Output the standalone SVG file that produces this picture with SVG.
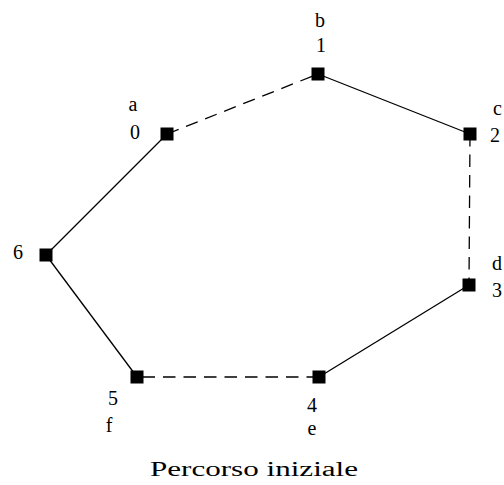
<svg xmlns="http://www.w3.org/2000/svg" width="504" height="485" viewBox="0 0 504 485">
<style>
.n{fill:#000}
.l{font-family:"Liberation Serif","Times New Roman",serif;font-size:20px;fill:#000}
.c{text-anchor:middle}
.e{stroke:#000;stroke-width:1.3;fill:none}
.d{stroke-dasharray:12.5 8}
</style>
<rect width="504" height="485" fill="#fff"/>
<g id="connectors">
<line class="e d" x1="167" y1="134" x2="318" y2="74"/>
<line class="e" x1="318" y1="74" x2="470" y2="134"/>
<line class="e d" x1="470" y1="134" x2="469" y2="285"/>
<line class="e" x1="469" y1="285" x2="319" y2="377"/>
<line class="e d" x1="319" y1="377" x2="137" y2="377"/>
<line class="e" x1="137" y1="377" x2="46" y2="255"/>
<line class="e" x1="46" y1="255" x2="167" y2="134"/>
</g>
<g id="node0"><rect class="n" x="160.5" y="127.5" width="13" height="13"/><text class="l c" x="133" y="111">a</text><text class="l c" x="135" y="139">0</text></g>
<g id="node1"><rect class="n" x="311.5" y="67.5" width="13" height="13"/><text class="l c" x="320" y="27">b</text><text class="l c" x="321" y="52">1</text></g>
<g id="node2"><rect class="n" x="463.5" y="127.5" width="13" height="13"/><text class="l" x="493" y="115">c</text><text class="l" x="490" y="142">2</text></g>
<g id="node3"><rect class="n" x="462.5" y="278.5" width="13" height="13"/><text class="l" x="492" y="270">d</text><text class="l" x="492" y="297">3</text></g>
<g id="node4"><rect class="n" x="312.5" y="370.5" width="13" height="13"/><text class="l c" x="312" y="412">4</text><text class="l c" x="312" y="435">e</text></g>
<g id="node5"><rect class="n" x="130.5" y="370.5" width="13" height="13"/><text class="l c" x="113" y="405">5</text><text class="l c" x="109" y="432">f</text></g>
<g id="node6"><rect class="n" x="39.5" y="248.5" width="13" height="13"/><text class="l c" x="18" y="259">6</text></g>
<text class="l" x="150" y="476" textLength="208" lengthAdjust="spacingAndGlyphs">Percorso iniziale</text>
</svg>
